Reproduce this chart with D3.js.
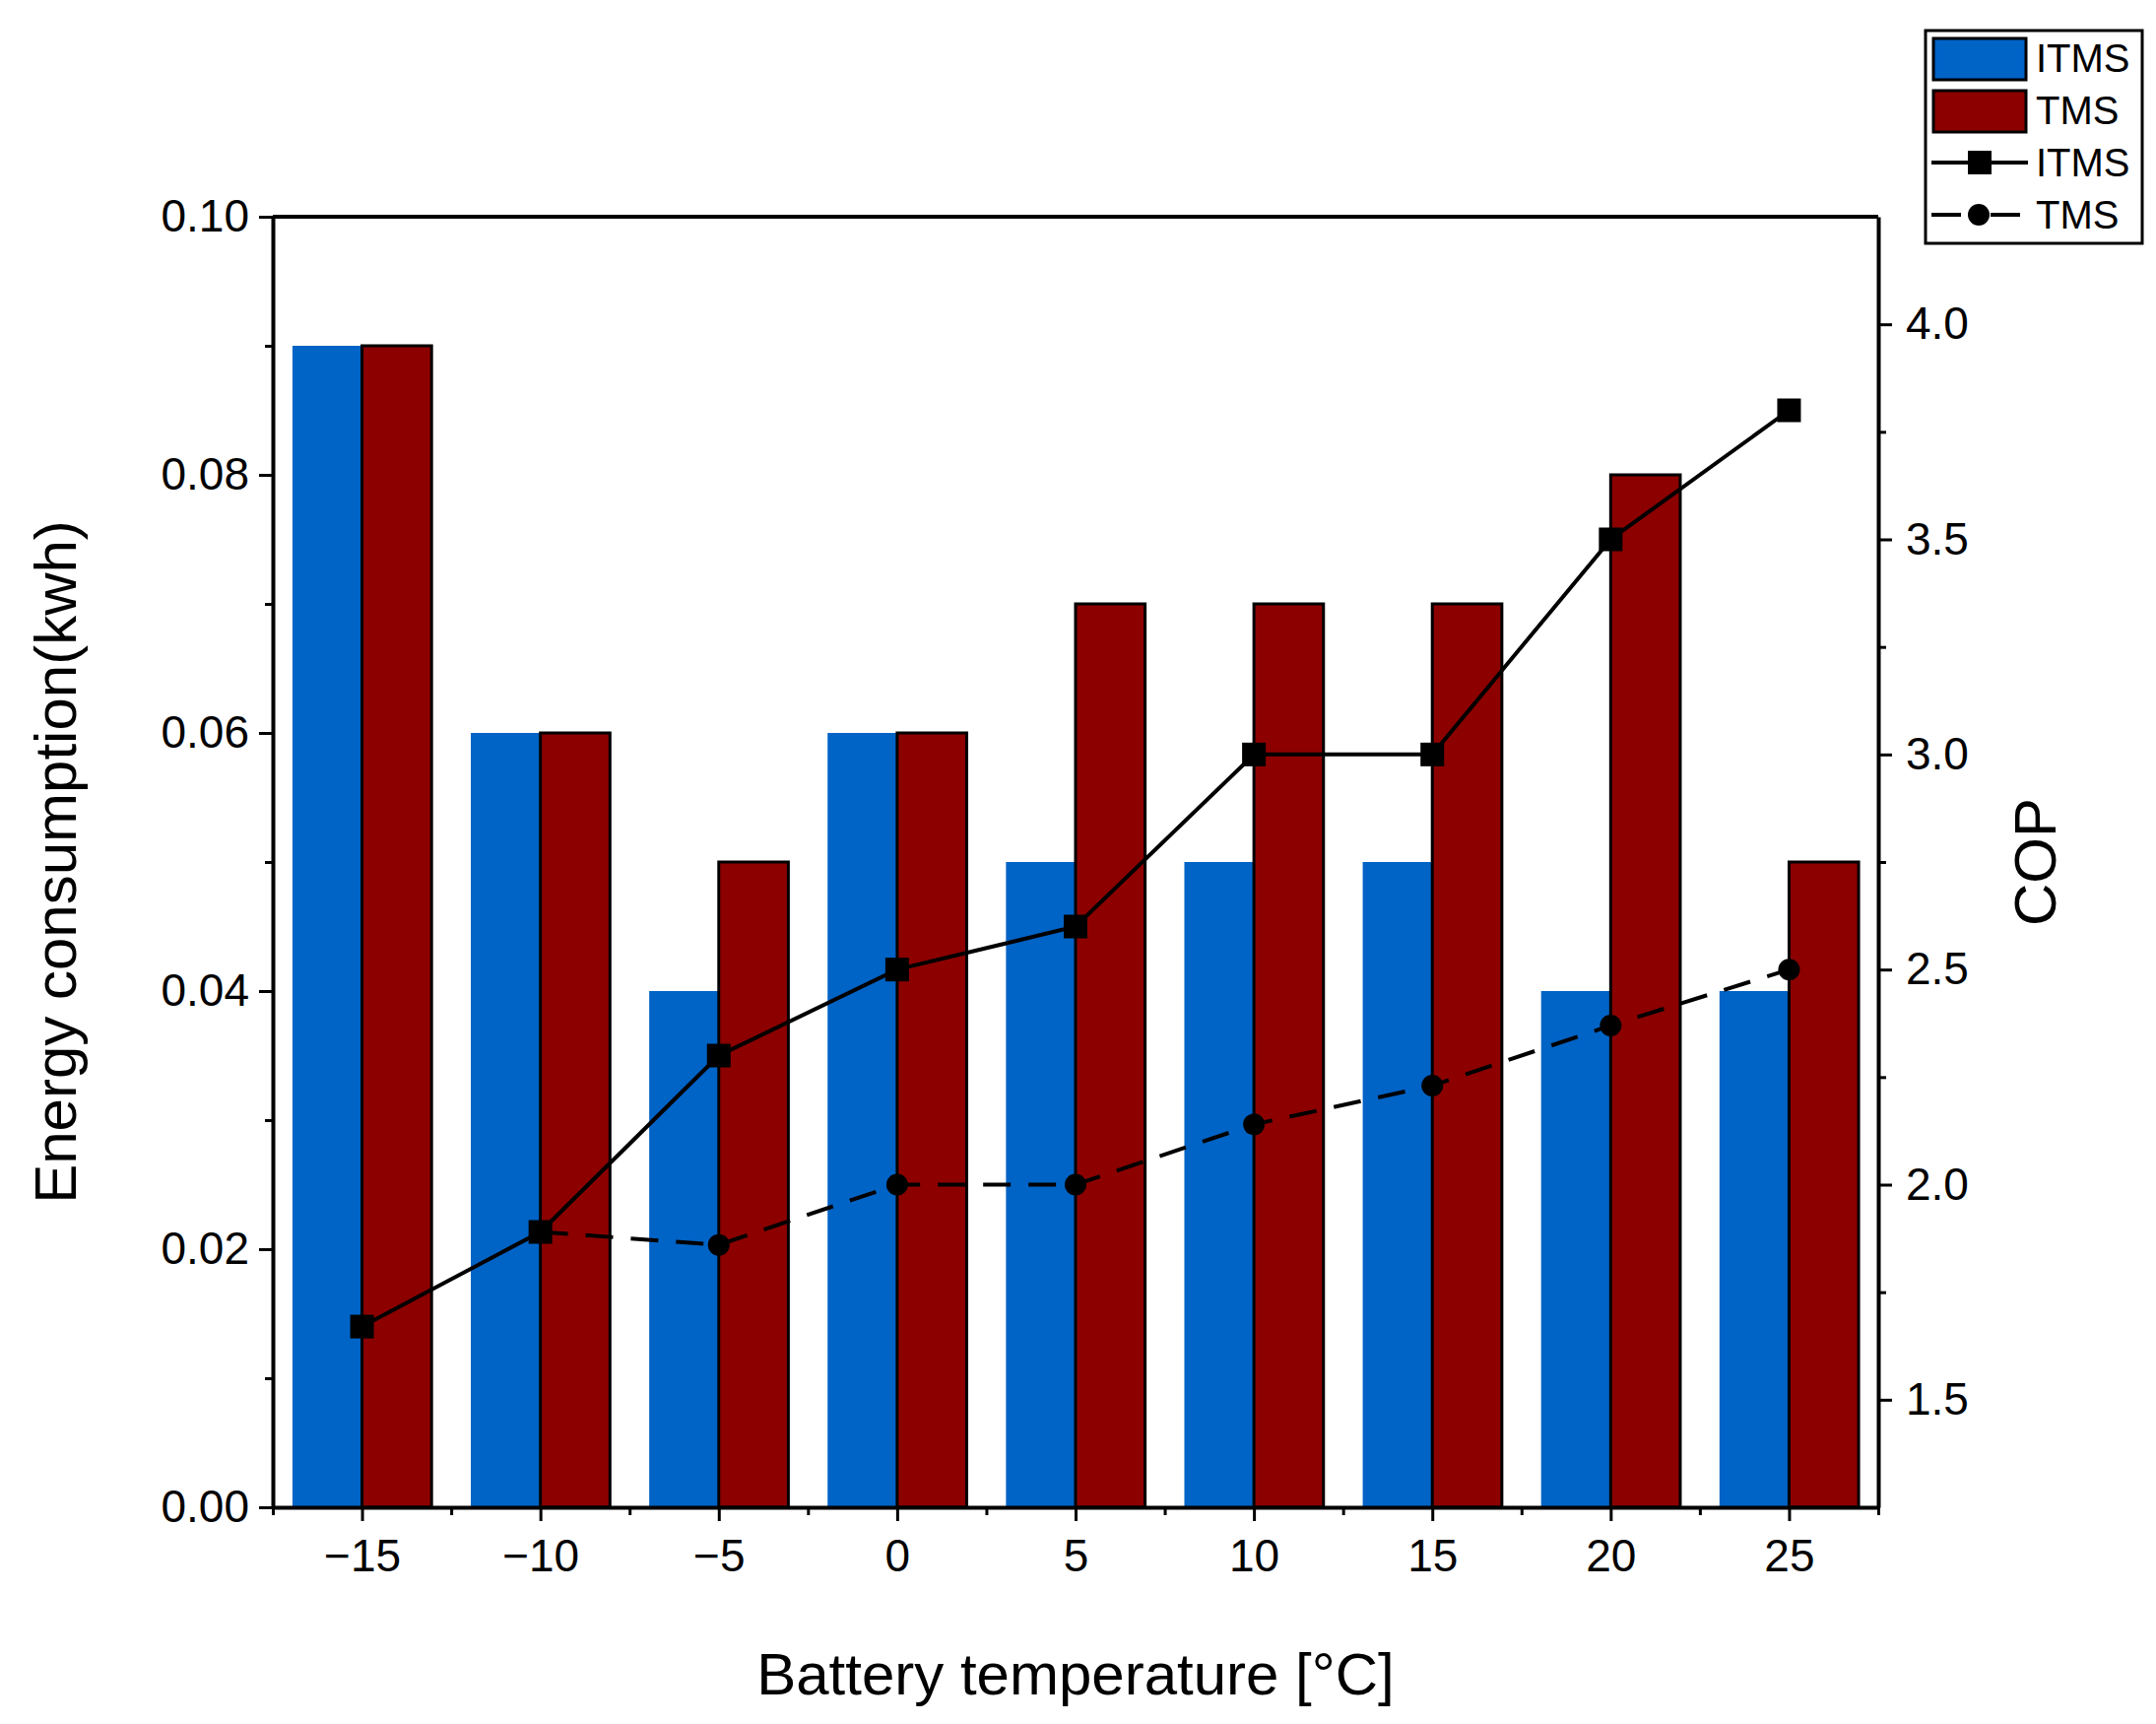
<!DOCTYPE html>
<html><head><meta charset="utf-8">
<script src="https://cdn.jsdelivr.net/npm/d3@7"></script>
<style>body{margin:0;background:#fff}text{font-family:"Liberation Sans",Arial,sans-serif}</style>
</head><body><div id="chart"></div>
<script>
const temps = [-15, -10, -5, 0, 5, 10, 15, 20, 25];
const itmsEnergy = [0.09, 0.06, 0.04, 0.06, 0.05, 0.05, 0.05, 0.04, 0.04];
const tmsEnergy = [0.09, 0.06, 0.05, 0.06, 0.07, 0.07, 0.07, 0.08, 0.05];
const itmsCop = [1.67, 1.89, 2.3, 2.5, 2.6, 3.0, 3.0, 3.5, 3.8];
const tmsCopTemps = [-10, -5, 0, 5, 10, 15, 20, 25];
const tmsCop = [1.89, 1.86, 2.0, 2.0, 2.14, 2.23, 2.37, 2.5];
const leftTicks = [0, 0.02, 0.04, 0.06, 0.08, 0.10];
const rightTicks = [1.5, 2.0, 2.5, 3.0, 3.5, 4.0];

const W = 2189, H = 1750;
const margin = { top: 220, right: 282, bottom: 220, left: 277 };
const width = W - margin.left - margin.right, height = H - margin.top - margin.bottom;

const svg = d3.select("#chart").append("svg").attr("width", W).attr("height", H);
const g = svg.append("g").attr("transform", `translate(${margin.left},${margin.top})`);

const x = d3.scaleLinear().domain([-17.5, 27.5]).range([0, width]);
const y = d3.scaleLinear().domain([0, 0.1]).range([height, 0]);
const y2 = d3.scaleLinear().domain([1.25, 4.25]).range([height, 0]);
const bw = 1.95;

// bars
g.selectAll(".b1").data(temps).join("rect")
  .attr("x", (d) => x(d - bw)).attr("width", x(bw) - x(0))
  .attr("y", (d, i) => y(itmsEnergy[i])).attr("height", (d, i) => height - y(itmsEnergy[i]))
  .attr("fill", "#0063c6");
g.selectAll(".b2").data(temps).join("rect")
  .attr("x", (d) => x(d)).attr("width", x(bw) - x(0))
  .attr("y", (d, i) => y(tmsEnergy[i])).attr("height", (d, i) => height - y(tmsEnergy[i]))
  .attr("fill", "#8c0000").attr("stroke", "#000").attr("stroke-width", 3);

// lines
const l1 = d3.line().x((d) => x(d[0])).y((d) => y2(d[1]));
g.append("path").datum(tmsCopTemps.map((t, i) => [t, tmsCop[i]]))
  .attr("d", l1).attr("fill", "none").attr("stroke", "#000").attr("stroke-width", 4)
  .attr("stroke-dasharray", "28,18");
g.selectAll(".c").data(tmsCopTemps).join("circle")
  .attr("cx", (d) => x(d)).attr("cy", (d, i) => y2(tmsCop[i])).attr("r", 11).attr("fill", "#000");
g.append("path").datum(temps.map((t, i) => [t, itmsCop[i]]))
  .attr("d", l1).attr("fill", "none").attr("stroke", "#000").attr("stroke-width", 4);
g.selectAll(".s").data(temps).join("rect")
  .attr("x", (d) => x(d) - 12).attr("y", (d, i) => y2(itmsCop[i]) - 12)
  .attr("width", 24).attr("height", 24).attr("fill", "#000");

// axes
const fs = "46px";
function style(sel) {
  sel.selectAll("path").attr("stroke-width", 4);
  sel.selectAll("line").attr("stroke-width", 3);
  sel.selectAll("text").attr("font-size", fs).attr("fill", "#000");
}
g.append("g").attr("transform", `translate(0,${height})`)
  .call(d3.axisBottom(x).tickValues(temps).tickSize(14).tickSizeOuter(0).tickPadding(18)
    .tickFormat((d) => d < 0 ? "\u2212" + Math.abs(d) : d))
  .call(style);
g.append("g").attr("transform", `translate(0,${height})`)
  .call(d3.axisBottom(x).tickValues(d3.range(-17.5, 28, 5)).tickSize(8).tickFormat(""))
  .call((s) => s.select("path").remove()).call(style);
g.append("g")
  .call(d3.axisLeft(y).tickValues(leftTicks).tickSize(14).tickSizeOuter(0).tickPadding(10).tickFormat(d3.format(".2f")))
  .call(style);
g.append("g")
  .call(d3.axisLeft(y).tickValues([0.01, 0.03, 0.05, 0.07, 0.09]).tickSize(8).tickFormat(""))
  .call((s) => s.select("path").remove()).call(style);
g.append("g").attr("transform", `translate(${width},0)`)
  .call(d3.axisRight(y2).tickValues(rightTicks).tickSize(14).tickSizeOuter(0).tickPadding(14).tickFormat(d3.format(".1f")))
  .call(style);
g.append("g").attr("transform", `translate(${width},0)`)
  .call(d3.axisRight(y2).tickValues([1.75, 2.25, 2.75, 3.25, 3.75]).tickSize(8).tickFormat(""))
  .call((s) => s.select("path").remove()).call(style);
g.append("line").attr("x1", 0).attr("x2", width).attr("y1", 0).attr("y2", 0)
  .attr("stroke", "#000").attr("stroke-width", 4);

// titles
g.append("text").attr("x", width / 2).attr("y", height + 190).attr("text-anchor", "middle")
  .attr("font-size", "60px").text("Battery temperature [°C]");
g.append("text").attr("transform", `translate(-200,${height / 2}) rotate(-90)`).attr("text-anchor", "middle")
  .attr("font-size", "60px").text("Energy consumption(kwh)");
g.append("text").attr("transform", `translate(${width + 180},${height / 2}) rotate(-90)`).attr("text-anchor", "middle")
  .attr("font-size", "60px").text("COP");

// legend
const lg = svg.append("g").attr("transform", "translate(1955,31)");
lg.append("rect").attr("width", 220).attr("height", 216).attr("fill", "#fff").attr("stroke", "#000").attr("stroke-width", 3);
const items = [
  { label: "ITMS", type: "bar", fill: "#0063c6" },
  { label: "TMS", type: "bar", fill: "#8c0000" },
  { label: "ITMS", type: "line" },
  { label: "TMS", type: "dash" }
];
items.forEach((it, i) => {
  const cy = 28 + i * 53;
  const e = lg.append("g").attr("transform", `translate(0,${cy})`);
  if (it.type === "bar") {
    e.append("rect").attr("x", 8).attr("y", -20).attr("width", 94).attr("height", 42)
      .attr("fill", it.fill).attr("stroke", "#000").attr("stroke-width", 3);
  } else if (it.type === "line") {
    e.append("line").attr("x1", 6).attr("x2", 104).attr("stroke", "#000").attr("stroke-width", 4);
    e.append("rect").attr("x", 43).attr("y", -12).attr("width", 24).attr("height", 24);
  } else {
    e.append("line").attr("x1", 6).attr("x2", 104).attr("stroke", "#000").attr("stroke-width", 4).attr("stroke-dasharray", "30,30");
    e.append("circle").attr("cx", 54).attr("r", 11);
  }
  e.append("text").attr("x", 112).attr("y", 14).attr("font-size", "40px").text(it.label);
});
</script></body></html>
